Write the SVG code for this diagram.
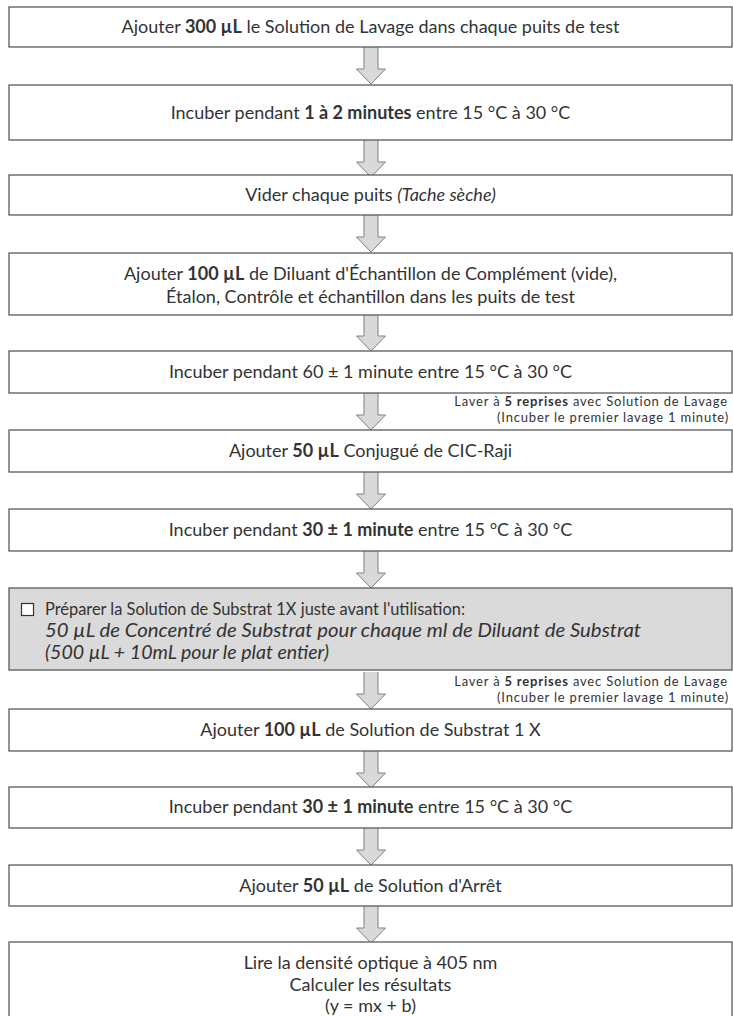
<svg xmlns="http://www.w3.org/2000/svg" width="733" height="1016" viewBox="0 0 733 1016">
<style>
.box{fill:#ffffff;stroke:#5a5a5a;stroke-width:1.3}
.grey{fill:#dadada;stroke:#5a5a5a;stroke-width:1.3}
.t{font-family:Lato,"Liberation Sans",sans-serif;font-size:18px;fill:#333333;text-anchor:middle}
.tl{font-family:Lato,"Liberation Sans",sans-serif;font-size:18px;fill:#333333}
.w{font-family:Lato,"Liberation Sans",sans-serif;font-size:13px;letter-spacing:0.8px;fill:#333333;text-anchor:end}
.b{font-weight:bold}
.i{font-style:italic;font-size:19px}
.arr{fill:#d9d9d9;stroke:#808080;stroke-width:1}
</style>
<defs>
<path id="a" class="arr" d="M-7,0 V22 H-14.5 L0,37 L14.5,22 H7 V0"/>
</defs>
<rect width="733" height="1016" fill="#ffffff"/>
<g id="connectors">
<use href="#a" x="371" y="47"/>
<use href="#a" x="371" y="140"/>
<use href="#a" x="371" y="215"/>
<use href="#a" x="371" y="314"/>
<use href="#a" x="371" y="393"/>
<use href="#a" x="371" y="472"/>
<use href="#a" x="371" y="551"/>
<use href="#a" x="371" y="672"/>
<use href="#a" x="371" y="751"/>
<use href="#a" x="371" y="828"/>
<use href="#a" x="371" y="906"/>
</g>
<g id="n1"><rect class="box" x="9" y="7" width="723" height="40"/>
<text class="t" x="370.5" y="33">Ajouter <tspan class="b">300 µL</tspan> le Solution de Lavage dans chaque puits de test</text></g>
<g id="n2"><rect class="box" x="9" y="85" width="723" height="55"/>
<text class="t" x="370.5" y="119">Incuber pendant <tspan class="b">1 à 2 minutes</tspan> entre 15 °C à 30 °C</text></g>
<g id="n3"><rect class="box" x="9" y="175" width="723" height="40"/>
<text class="t" x="370.5" y="201">Vider chaque puits <tspan style="font-style:italic">(Tache sèche)</tspan></text></g>
<g id="n4"><rect class="box" x="9" y="253" width="723" height="62"/>
<text class="t" x="370.5" y="280">Ajouter <tspan class="b">100 µL</tspan> de Diluant d'Échantillon de Complément (vide),</text>
<text class="t" x="370.5" y="303">Étalon, Contrôle et échantillon dans les puits de test</text></g>
<g id="n5"><rect class="box" x="9" y="351" width="723" height="42"/>
<text class="t" x="370.5" y="378">Incuber pendant 60 ± 1 minute entre 15 °C à 30 °C</text></g>
<g id="l1"><text class="w" x="728" y="406">Laver à <tspan class="b">5 reprises</tspan> avec Solution de Lavage</text>
<text class="w" x="729" y="422">(Incuber le premier lavage 1 minute)</text></g>
<g id="n6"><rect class="box" x="9" y="430" width="723" height="42"/>
<text class="t" x="370.5" y="457">Ajouter <tspan class="b">50 µL</tspan> Conjugué de CIC-Raji</text></g>
<g id="n7"><rect class="box" x="9" y="509" width="723" height="42"/>
<text class="t" x="370.5" y="536">Incuber pendant <tspan class="b">30 ± 1 minute</tspan> entre 15 °C à 30 °C</text></g>
<g id="n8"><rect class="grey" x="9" y="588" width="723" height="82"/>
<rect x="21.5" y="603.5" width="12" height="12" fill="#ffffff" stroke="#333333" stroke-width="1.2"/>
<text class="tl" x="45" y="615" textLength="420" lengthAdjust="spacingAndGlyphs">Préparer la Solution de Substrat 1X juste avant l'utilisation:</text>
<text class="tl i" x="45" y="637" textLength="596" lengthAdjust="spacingAndGlyphs">50 µL de Concentré de Substrat pour chaque ml de Diluant de Substrat</text>
<text class="tl i" x="45" y="659" textLength="284" lengthAdjust="spacingAndGlyphs">(500 µL + 10mL pour le plat entier)</text></g>
<g id="l2"><text class="w" x="728" y="686">Laver à <tspan class="b">5 reprises</tspan> avec Solution de Lavage</text>
<text class="w" x="729" y="702">(Incuber le premier lavage 1 minute)</text></g>
<g id="n9"><rect class="box" x="9" y="709" width="723" height="42"/>
<text class="t" x="370.5" y="736">Ajouter <tspan class="b">100 µL</tspan> de Solution de Substrat 1 X</text></g>
<g id="n10"><rect class="box" x="9" y="787" width="723" height="41"/>
<text class="t" x="370.5" y="813">Incuber pendant <tspan class="b">30 ± 1 minute</tspan> entre 15 °C à 30 °C</text></g>
<g id="n11"><rect class="box" x="9" y="865" width="723" height="41"/>
<text class="t" x="370.5" y="892">Ajouter <tspan class="b">50 µL</tspan> de Solution d'Arrêt</text></g>
<g id="n12"><rect class="box" x="9" y="942" width="723" height="80"/>
<text class="t" x="370.5" y="969">Lire la densité optique à 405 nm</text>
<text class="t" x="370.5" y="991">Calculer les résultats</text>
<text class="t" x="370.5" y="1012">(y = mx + b)</text></g>
</svg>
